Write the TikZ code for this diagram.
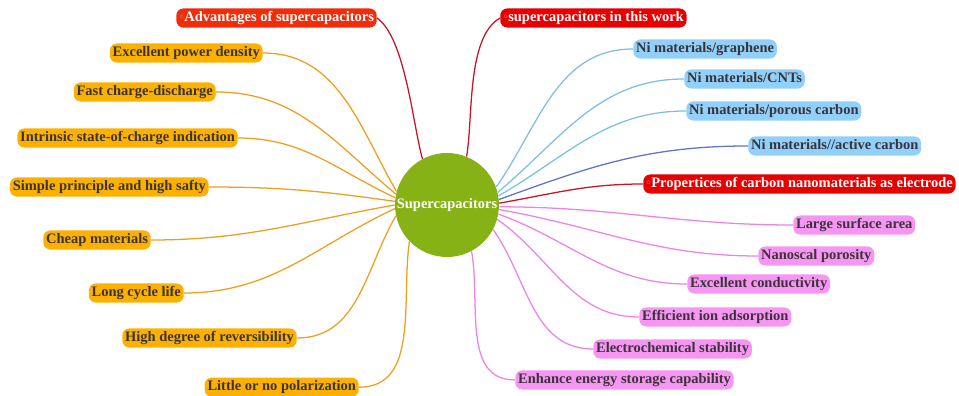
\documentclass[tikz,border=0pt]{standalone}
\usepackage{fontspec}
\setmainfont{Liberation Serif}

\definecolor{hubgreen}{RGB}{134,178,22}
\definecolor{leaftext}{RGB}{58,52,58}
\definecolor{orangefill}{RGB}{252,176,0}
\definecolor{orangeline}{RGB}{240,158,30}
\definecolor{bluefill}{RGB}{145,208,250}
\definecolor{blueline}{RGB}{125,190,235}
\definecolor{activeline}{RGB}{95,115,200}
\definecolor{pinkfill}{RGB}{246,150,242}
\definecolor{pinkline}{RGB}{238,130,232}
\definecolor{redfill}{RGB}{232,0,0}
\definecolor{advfill}{RGB}{240,45,10}
\definecolor{redline}{RGB}{200,20,35}
\definecolor{markgray}{RGB}{150,150,170}

\begin{document}
\begin{tikzpicture}[scale=1.0,
  leaf/.style={rounded corners=5pt, inner xsep=2pt, inner ysep=2pt, text height=7.3pt, text depth=2.3pt,
    font=\bfseries\fontsize{10.3}{12}\selectfont, text=leaftext},
  orangeleaf/.style={leaf, fill=orangefill},
  blueleaf/.style={leaf, fill=bluefill},
  pinkleaf/.style={leaf, fill=pinkfill},
  redleaf/.style={leaf, fill=redfill, text=white},
  branch/.style={line width=0.9pt}
]
  \useasboundingbox (0,0) rectangle (23.975,9.9);

  % Hub
  \node[circle, fill=hubgreen, minimum size=2.6cm, inner sep=0pt, text=white,
    font=\bfseries\fontsize{10.3}{12}\selectfont] (sc) at (11.175,4.775) {Supercapacitors};

  % Advantages (left)
  \node[redleaf, fill=advfill, anchor=east] (adv) at (9.425,9.45) {\raisebox{2pt}{\tiny\color{markgray}$\circ$}Advantages of supercapacitors};
  \node[orangeleaf, anchor=east] (power) at (6.575,8.575) {Excellent power density};
  \node[orangeleaf, anchor=east] (fast) at (5.4,7.6) {Fast charge-discharge};
  \node[orangeleaf, anchor=east] (intr) at (5.95,6.45) {Intrinsic state-of-charge indication};
  \node[orangeleaf, anchor=east] (simple) at (5.225,5.225) {Simple principle and high safty};
  \node[orangeleaf, anchor=east] (cheap) at (3.775,3.9) {Cheap materials};
  \node[orangeleaf, anchor=east] (life) at (4.6,2.575) {Long cycle life};
  \node[orangeleaf, anchor=east] (rev) at (7.425,1.45) {High degree of reversibility};
  \node[orangeleaf, anchor=east] (polar) at (8.975,0.22) {Little or no polarization};

  \draw[branch, redline] (sc.118) to[out=106, in=-35, looseness=0.6] (adv.east);
  \draw[branch, orangeline] (sc.165) to[out=120, in=0] (power.east);
  \draw[branch, orangeline] (sc.168) to[out=140, in=0] (fast.east);
  \draw[branch, orangeline] (sc.172) to[out=155, in=0] (intr.east);
  \draw[branch, orangeline] (sc.176) to[out=172, in=0] (simple.east);
  \draw[branch, orangeline] (sc.180) to[out=190, in=0] (cheap.east);
  \draw[branch, orangeline] (sc.184) to[out=205, in=0] (life.east);
  \draw[branch, orangeline] (sc.192) to[out=240, in=0] (rev.east);
  \draw[branch, orangeline] (sc.224) to[out=262, in=0] (polar.east);

  % This work (right, blue)
  \node[redleaf, anchor=west] (work) at (12.5,9.45) {\raisebox{2pt}{\tiny\color{markgray}$\circ$}supercapacitors in this work};
  \node[blueleaf, anchor=west] (graph) at (15.825,8.675) {Ni materials/graphene};
  \node[blueleaf, anchor=west] (cnt) at (17.1,7.925) {Ni materials/CNTs};
  \node[blueleaf, anchor=west] (porous) at (17.15,7.125) {Ni materials/porous carbon};
  \node[blueleaf, anchor=west] (active) at (18.7,6.25) {Ni materials//active carbon};

  \draw[branch, redline] (sc.68) to[out=80, in=210, looseness=0.7] (work.west);
  \draw[branch, blueline] (sc.20) to[out=55, in=180] (graph.west);
  \draw[branch, blueline] (sc.14) to[out=40, in=180] (cnt.west);
  \draw[branch, blueline] (sc.10) to[out=30, in=180] (porous.west);
  \draw[branch, activeline] (sc.6) to[out=20, in=180] (active.west);

  % Carbon properties (right, pink)
  \node[redleaf, anchor=west] (prop) at (16.075,5.3) {\raisebox{2pt}{\tiny\color{markgray}$\circ$}Propertices of carbon nanomaterials as electrode};
  \node[pinkleaf, anchor=west] (area) at (19.825,4.275) {Large surface area};
  \node[pinkleaf, anchor=west] (pore) at (18.95,3.5) {Nanoscal porosity};
  \node[pinkleaf, anchor=west] (cond) at (17.175,2.8) {Excellent conductivity};
  \node[pinkleaf, anchor=west] (ion) at (15.975,1.975) {Efficient ion adsorption};
  \node[pinkleaf, anchor=west] (stab) at (14.825,1.175) {Electrochemical stability};
  \node[pinkleaf, anchor=west] (store) at (12.875,0.4) {Enhance energy storage capability};

  \draw[branch, redline] (sc.2) to[out=10, in=180] (prop.west);
  \draw[branch, pinkline] (sc.-2) to[out=0, in=180] (area.west);
  \draw[branch, pinkline] (sc.-5) to[out=-10, in=180] (pore.west);
  \draw[branch, pinkline] (sc.-10) to[out=-20, in=180] (cond.west);
  \draw[branch, pinkline] (sc.-16) to[out=-35, in=180] (ion.west);
  \draw[branch, pinkline] (sc.-28) to[out=-55, in=180] (stab.west);
  \draw[branch, pinkline] (sc.-62) to[out=-80, in=180] (store.west);

\end{tikzpicture}
\end{document}
